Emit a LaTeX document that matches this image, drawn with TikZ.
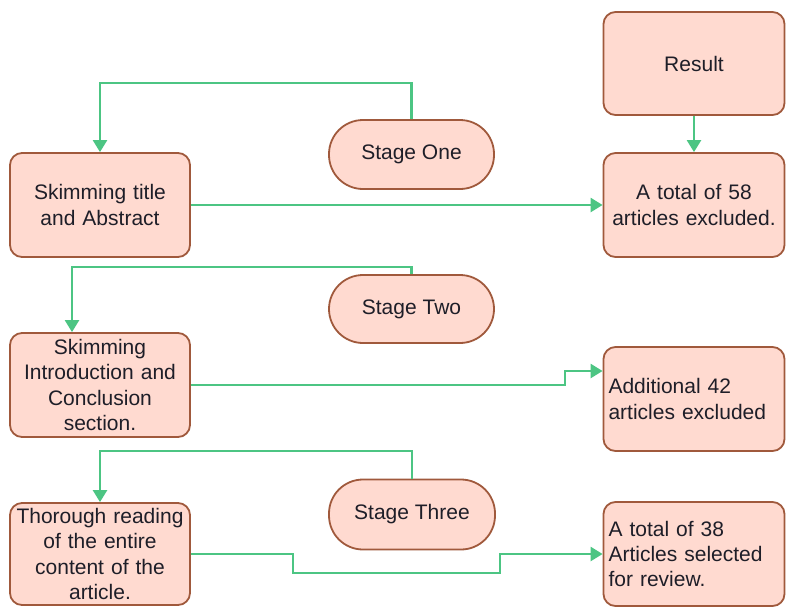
\documentclass[tikz,border=0pt]{standalone}
\usepackage{fontspec}
\setmainfont{Liberation Sans}
\usetikzlibrary{arrows.meta}
\definecolor{boxfill}{HTML}{FFDAD0}
\definecolor{boxline}{HTML}{A0593C}
\definecolor{linkgreen}{HTML}{4CC583}
\definecolor{txt}{HTML}{1E1E28}
\tikzset{
  basebox/.style={draw=boxline, fill=boxfill, line width=1.8pt, text=txt,
    font=\fontsize{21}{25.3}\selectfont, inner xsep=5pt, inner ysep=0pt},
  rbox/.style={basebox, rounded corners=12pt, text width=#1-10pt, align=center,
    minimum height=104pt},
  lbox/.style={basebox, rounded corners=12pt, text width=#1-10pt, align=left,
    minimum height=104pt},
  pill/.style={basebox, rounded corners=34pt, minimum width=165pt, minimum height=69pt},
  conn/.style={draw=linkgreen, line width=2.4pt, -{Triangle[width=14pt,length=12pt]}}
}
\begin{document}
\begin{tikzpicture}[x=1pt,y=-1pt]
\useasboundingbox (0,0) rectangle (787,606);
\node[rbox=181pt, minimum height=103pt] (result) at (694,63.5) {Result};
\node[pill] (s1) at (411.5,154.5) {Stage One};
\node[rbox=180pt] (skim1) at (100,205) {Skimming title\\and Abstract};
\node[rbox=181pt] (ex1) at (694,205) {A total of 58\\articles excluded.};
\node[pill, minimum height=68pt] (s2) at (411.5,309) {Stage Two};
\node[rbox=180pt] (skim2) at (100,385) {Skimming\\Introduction and\\Conclusion\\section.};
\node[lbox=181pt] (ex2) at (694,399) {Additional 42\\articles excluded};
\node[pill, minimum height=70pt, minimum width=166pt] (s3) at (412,514.5) {Stage Three};
\node[rbox=180pt, minimum height=102pt] (skim3) at (100,554) {Thorough reading\\of the entire\\content of the\\article.};
\node[lbox=181pt] (ex3) at (694,554) {A total of 38\\Articles selected\\for review.};

\coordinate (k1) at (100,83);
\coordinate (k2) at (72,267);
\coordinate (k3) at (565,371);
\coordinate (k4) at (100,451);
\coordinate (k5) at (293,573);
\coordinate (k6) at (500,573);

\draw[conn] (s1.north) |- (k1) -- (skim1.north);
\draw[conn] (skim1.east) -- (ex1.west);
\draw[conn] (result.south) -- (ex1.north);
\draw[conn] (s2.north) |- (k2) -- (k2 |- skim2.north);
\draw[conn] (skim2.east) -| (k3) -- (ex2.west |- k3);
\draw[conn] (s3.north) |- (k4) -- (skim3.north);
\draw[conn] (skim3.east) -| (k5) -- (k6) |- (ex3.west);
\end{tikzpicture}
\end{document}
